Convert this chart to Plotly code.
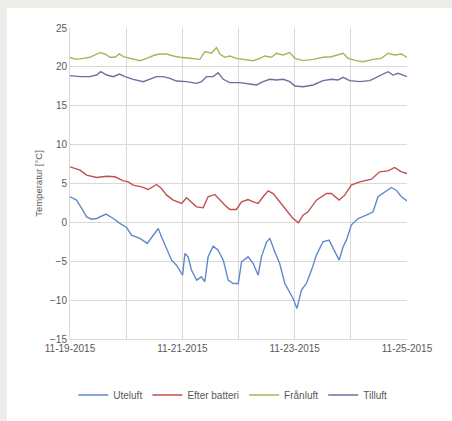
import pandas as pd
import plotly.graph_objects as go

start = pd.Timestamp("2015-11-19 00:00")

# Hours since start and temperatures [°C]
ute_h = [0, 2.8, 5.0, 7.1, 9.2, 11.4, 15.4, 18.5, 21.3, 24.2, 26.3, 29.9, 33.0, 35.6, 37.7, 39.1,
         41.3, 43.4, 45.5, 48.1, 49.1, 50.5, 51.9, 54.1, 56.2, 57.6, 59.0, 61.2, 63.3, 65.5, 67.6,
         69.7, 71.9, 73.3, 76.1, 78.3, 80.4, 81.8, 84.0, 85.4, 87.5, 89.6, 91.8, 93.9, 95.3, 97.0,
         98.9, 101.0, 103.2, 105.3, 108.1, 110.7, 112.4, 115.0, 116.7, 118.1, 120.2, 123.1, 126.6,
         129.5, 131.6, 134.5, 137.3, 139.4, 141.6, 144.0]
ute_v = [3.29, 2.86, 1.79, 0.71, 0.41, 0.5, 1.06, 0.5, -0.13, -0.66, -1.64, -2.07, -2.71, -1.64,
         -0.79, -1.86, -3.36, -4.86, -5.5, -6.79, -4.0, -4.43, -6.14, -7.43, -7.0, -7.64, -4.43,
         -3.06, -3.57, -4.86, -7.43, -7.86, -7.86, -5.07, -4.43, -5.29, -6.79, -4.43, -2.5, -2.07,
         -3.79, -5.29, -7.86, -9.14, -9.79, -11.07, -8.71, -7.86, -6.14, -4.21, -2.5, -2.29, -3.36,
         -4.86, -3.14, -2.29, -0.34, 0.5, 0.93, 1.36, 3.29, 3.93, 4.49, 4.14, 3.29, 2.77]

eft_h = [0, 4.3, 7.1, 11.4, 15.7, 19.2, 22.8, 24.9, 27.0, 30.6, 33.4, 37.0, 39.1, 41.3, 44.1, 47.7,
         49.8, 51.9, 54.1, 56.9, 59.0, 61.9, 64.0, 66.2, 68.3, 71.1, 73.3, 76.1, 78.3, 80.4, 82.5,
         84.7, 86.8, 89.6, 92.5, 95.3, 97.6, 99.6, 101.7, 105.3, 109.6, 111.7, 115.0, 117.4, 120.2,
         123.8, 128.8, 132.3, 135.9, 138.7, 141.6, 144.0]
eft_v = [7.14, 6.71, 6.07, 5.77, 5.94, 5.86, 5.34, 5.21, 4.79, 4.57, 4.23, 4.87, 4.36, 3.5, 2.86,
         2.43, 3.16, 2.64, 2.0, 1.87, 3.29, 3.59, 2.86, 2.21, 1.66, 1.66, 2.64, 2.94, 2.64, 2.43,
         3.29, 4.06, 3.71, 2.64, 1.57, 0.5, -0.04, 0.93, 1.36, 2.86, 3.71, 3.71, 2.86, 3.5, 4.79,
         5.21, 5.56, 6.5, 6.63, 7.06, 6.5, 6.29]

fran_h = [0, 2.8, 5.7, 8.5, 10.7, 12.8, 14.9, 17.1, 19.2, 21.1, 22.8, 25.6, 29.9, 32.7, 36.3, 38.4,
          41.3, 44.1, 47.0, 51.2, 55.5, 57.6, 60.5, 62.6, 64.0, 66.2, 68.3, 71.1, 75.4, 78.3, 81.1,
          83.2, 86.1, 88.2, 91.1, 93.9, 96.1, 99.6, 103.9, 108.1, 111.7, 113.8, 116.7, 118.8, 122.4,
          125.2, 129.5, 133.0, 135.9, 138.7, 141.6, 144.0]
fran_v = [21.18, 20.97, 21.1, 21.23, 21.53, 21.83, 21.66, 21.23, 21.23, 21.66, 21.31, 21.1, 20.8,
          21.1, 21.53, 21.66, 21.66, 21.4, 21.23, 21.1, 20.97, 21.96, 21.75, 22.5, 21.66, 21.23,
          21.4, 21.1, 20.88, 20.8, 21.1, 21.4, 21.23, 21.75, 21.53, 21.83, 21.1, 20.8, 20.97, 21.23,
          21.31, 21.53, 21.75, 21.1, 20.8, 20.67, 20.97, 21.1, 21.75, 21.53, 21.66, 21.23]

till_h = [0, 4.3, 8.5, 11.4, 13.1, 15.7, 18.5, 21.1, 23.5, 27.0, 31.3, 34.1, 37.0, 39.8, 42.7, 45.5,
          49.8, 54.1, 56.2, 58.3, 61.2, 63.3, 65.5, 68.3, 72.6, 76.8, 79.7, 82.5, 85.4, 88.2, 91.1,
          93.9, 96.1, 99.6, 103.9, 108.1, 111.7, 114.5, 116.7, 119.5, 123.8, 128.1, 131.6, 135.9,
          138.0, 140.2, 142.3, 144.0]
till_v = [18.87, 18.74, 18.74, 18.95, 19.38, 18.95, 18.74, 19.08, 18.74, 18.4, 18.1, 18.4, 18.74,
          18.74, 18.53, 18.18, 18.1, 17.88, 18.1, 18.74, 18.74, 19.25, 18.4, 17.97, 17.97, 17.8,
          17.67, 18.1, 18.4, 18.31, 18.4, 18.1, 17.54, 17.45, 17.67, 18.23, 18.4, 18.31, 18.65,
          18.23, 18.1, 18.23, 18.74, 19.38, 18.95, 19.17, 18.95, 18.74]

series = [
    ("Uteluft", ute_h, ute_v, "#6189CA"),
    ("Efter batteri", eft_h, eft_v, "#C0504D"),
    ("Frånluft", fran_h, fran_v, "#9BBB59"),
    ("Tilluft", till_h, till_v, "#8064A2"),
]

day_ticks = pd.date_range("2015-11-19", "2015-11-25", freq="D")
tick_text = [d.strftime("%m-%d-%Y") if i % 2 == 0 else "" for i, d in enumerate(day_ticks)]

fig = go.Figure()
for name, hrs, vals, col in series:
    fig.add_trace(go.Scatter(
        x=[start + pd.Timedelta(hours=h) for h in hrs], y=vals, name=name,
        mode="lines", line=dict(color=col, width=1.4)))

font = "Liberation Sans, Arial, sans-serif"
grid = "#D9D9D9"
fig.update_layout(
    width=452, height=421,
    margin=dict(l=70, r=45, t=28, b=82),
    paper_bgcolor="#EDEDE9", plot_bgcolor="white",
    font=dict(family=font, size=10, color="#595959"),
    showlegend=True,
    legend=dict(orientation="h", xref="container", yref="container",
                x=0.515, xanchor="center", y=(421 - 395) / 421, yanchor="middle",
                font=dict(size=10, color="#595959"), bgcolor="rgba(0,0,0,0)",
                itemwidth=30),
    shapes=[dict(type="rect", xref="paper", yref="paper", x0=-63/337, x1=1.5,
                 y0=-0.6, y1=1 + 20/311, fillcolor="white", line=dict(width=0),
                 layer="below")],
    xaxis=dict(range=[day_ticks[0], day_ticks[-1]], tickvals=list(day_ticks), ticktext=tick_text,
               showgrid=True, gridcolor=grid, gridwidth=1, showline=True, linecolor=grid,
               zeroline=False, ticks="", tickfont=dict(size=10, color="#595959")),
    yaxis=dict(range=[-15, 25], dtick=5, tick0=-15, showgrid=True, gridcolor=grid,
               showline=True, linecolor=grid, zeroline=False, ticks="",
               tickfont=dict(size=10, color="#595959"),
               title=dict(text="Temperatur [°C]", font=dict(size=9.5, color="#595959"), standoff=5)),
)
fig.write_html("out.html", config={"displayModeBar": False},
               post_script="document.body.style.margin='0';")
